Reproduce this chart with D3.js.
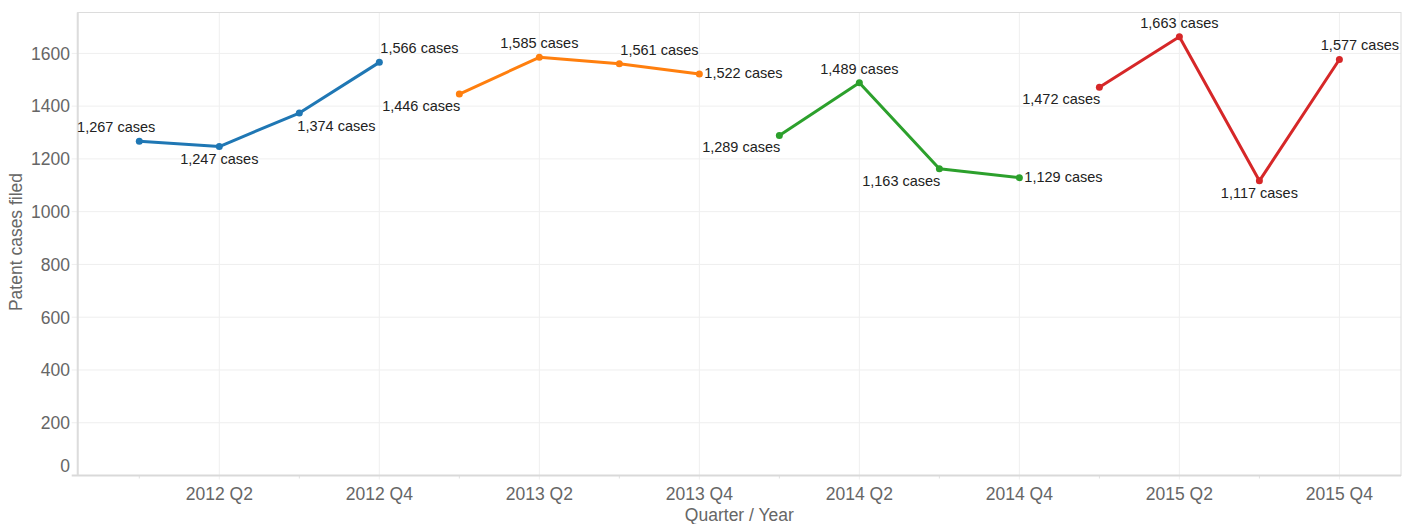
<!DOCTYPE html>
<html>
<head>
<meta charset="utf-8">
<script src="https://d3js.org/d3.v7.min.js"></script>
<style>
  body { margin: 0; background: #fff; }
  svg { display: block; font-family: "Liberation Sans", Arial, sans-serif; }
</style>
</head>
<body>
<svg id="chart"></svg>
<script>
// quarters on the x axis, one series per year
var quarters = ['2012 Q1', '2012 Q2', '2012 Q3', '2012 Q4',
                '2013 Q1', '2013 Q2', '2013 Q3', '2013 Q4',
                '2014 Q1', '2014 Q2', '2014 Q3', '2014 Q4',
                '2015 Q1', '2015 Q2', '2015 Q3', '2015 Q4'];
var years = ['2012', '2013', '2014', '2015'];
var cases = [1267, 1247, 1374, 1566,
             1446, 1585, 1561, 1522,
             1289, 1489, 1163, 1129,
             1472, 1663, 1117, 1577];
var xTickLabels = ['2012 Q2', '2012 Q4', '2013 Q2', '2013 Q4',
                   '2014 Q2', '2014 Q4', '2015 Q2', '2015 Q4'];
var yTicks = [0, 200, 400, 600, 800, 1000, 1200, 1400, 1600];
var yearColors = ['#1f77b4', '#ff7f0e', '#2ca02c', '#d62728'];
// where each mark label sits relative to its point
var labelPos = ['tl', 'b', 'br', 'tr',
                'bl', 't', 'tr', 'r',
                'bl', 't', 'bl', 'r',
                'bl', 't', 'b', 'tr'];

var W = 1413, H = 524;
var M = { left: 77.7, right: 1401, top: 12.5, bottom: 475.5 };

var svg = d3.select('#chart').attr('width', W).attr('height', H);

var x = d3.scalePoint().domain(quarters).range([M.left, M.right]).padding(0.77);
var y = d3.scaleLinear().domain([0, 1755]).range([M.bottom, M.top]);

var rows = quarters.map(function(q, i) {
	return { q: q, year: q.slice(0, 4), v: cases[i], pos: labelPos[i] };
});

// grid
var grid = svg.append('g');
grid.selectAll('line.hgrid')
	.data(yTicks.filter(function(d) { return d > 0; }))
	.enter().append('line')
		.attr('x1', M.left - 6).attr('x2', M.right)
		.attr('y1', function(d) { return y(d); })
		.attr('y2', function(d) { return y(d); })
		.style('stroke', '#efefef').style('stroke-width', 1);
grid.selectAll('line.vgrid')
	.data(xTickLabels)
	.enter().append('line')
		.attr('x1', function(d) { return x(d); })
		.attr('x2', function(d) { return x(d); })
		.attr('y1', M.top).attr('y2', M.bottom + 4)
		.style('stroke', '#efefef').style('stroke-width', 1);

// minor ticks at Q1 / Q3
svg.append('g').selectAll('line')
	.data(quarters.filter(function(q) { return xTickLabels.indexOf(q) < 0; }))
	.enter().append('line')
		.attr('x1', function(d) { return x(d); })
		.attr('x2', function(d) { return x(d); })
		.attr('y1', M.bottom).attr('y2', M.bottom + 3)
		.style('stroke', '#e0e0e0');

// frame
svg.append('rect')
	.attr('x', M.left).attr('y', M.top)
	.attr('width', M.right - M.left).attr('height', M.bottom - M.top)
	.style('fill', 'none').style('stroke', '#dcdcdc').style('stroke-width', 1);
svg.append('line')
	.attr('x1', M.left - 6).attr('x2', M.right)
	.attr('y1', M.bottom).attr('y2', M.bottom)
	.style('stroke', '#d9d9d9').style('stroke-width', 2);
svg.append('line')
	.attr('x1', M.left).attr('x2', M.left)
	.attr('y1', M.top).attr('y2', M.bottom)
	.style('stroke', '#dcdcdc').style('stroke-width', 2);

// axis labels
svg.append('g').selectAll('text')
	.data(yTicks)
	.enter().append('text')
		.attr('x', 70)
		.attr('y', function(d) { return y(d) + (d == 0 ? -10 : 0); })
		.attr('dy', '0.36em')
		.attr('text-anchor', 'end')
		.style('font-size', '17.5px')
		.style('fill', '#666')
		.text(function(d) { return d; });

svg.append('g').selectAll('text')
	.data(xTickLabels)
	.enter().append('text')
		.attr('x', function(d) { return x(d); })
		.attr('y', 499.5)
		.attr('text-anchor', 'middle')
		.style('font-size', '17.5px')
		.style('fill', '#666')
		.text(function(d) { return d; });

svg.append('text')
	.attr('x', (M.left + M.right) / 2)
	.attr('y', 521)
	.attr('text-anchor', 'middle')
	.style('font-size', '17.5px')
	.style('fill', '#666')
	.text('Quarter / Year');

svg.append('text')
	.attr('transform', 'translate(22,242) rotate(-90)')
	.attr('text-anchor', 'middle')
	.style('font-size', '17.5px')
	.style('fill', '#666')
	.text('Patent cases filed');

// one line per year
var line = d3.line()
	.x(function(d) { return x(d.q); })
	.y(function(d) { return y(d.v); });

years.forEach(function(yr, i) {
	var pts = rows.filter(function(d) { return d.year == yr; });
	svg.append('path')
		.datum(pts)
		.attr('d', line)
		.style('fill', 'none')
		.style('stroke', yearColors[i])
		.style('stroke-width', 3)
		.style('stroke-linejoin', 'round');
	svg.selectAll('circle.y' + yr)
		.data(pts)
		.enter().append('circle')
			.attr('cx', function(d) { return x(d.q); })
			.attr('cy', function(d) { return y(d.v); })
			.attr('r', 3.5)
			.style('fill', yearColors[i]);
});

// mark labels
var fmt = d3.format(',');
svg.append('g').selectAll('text')
	.data(rows)
	.enter().append('text')
		.style('font-size', '14.5px')
		.style('fill', '#222')
		.each(function(d) {
			var px = x(d.q), py = y(d.v);
			var t = d3.select(this).text(fmt(d.v) + ' cases');
			var anchor = 'middle', tx = px, ty = py;
			if (d.pos == 't') { ty = py - 9; }
			if (d.pos == 'b') { ty = py + 17; }
			if (d.pos == 'tl') { anchor = 'end'; tx = px + 16; ty = py - 9; }
			if (d.pos == 'tr') { anchor = 'start'; tx = px + 1; ty = py - 9; }
			if (d.pos == 'br') { anchor = 'start'; tx = px - 2; ty = py + 18; }
			if (d.pos == 'bl') { anchor = 'end'; tx = px + 1; ty = py + 17; }
			if (d.pos == 'r') { anchor = 'start'; tx = px + 5; ty = py + 4; }
			t.attr('x', tx).attr('y', ty).attr('text-anchor', anchor);
			// keep labels inside the plot frame
			var bb = this.getBBox();
			if (bb.x + bb.width > M.right - 2) {
				t.attr('x', M.right - 2).attr('text-anchor', 'end');
			}
		});
</script>
</body>
</html>
